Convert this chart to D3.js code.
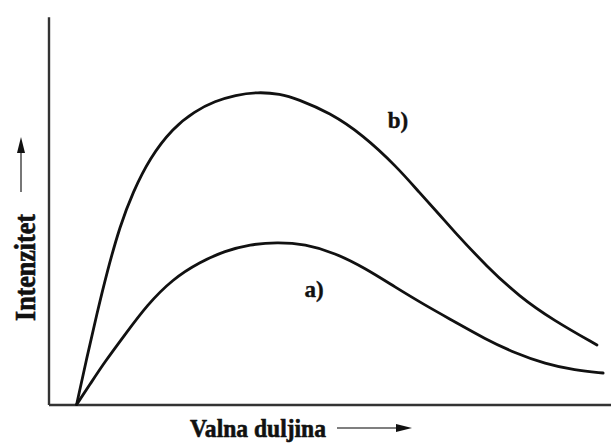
<!DOCTYPE html>
<html>
<head>
<meta charset="utf-8">
<script src="https://cdn.jsdelivr.net/npm/d3@7"></script>
<style>
  html, body { margin: 0; padding: 0; background: #fff; }
  svg { display: block; }
</style>
</head>
<body>
<svg id="chart" width="611" height="443"></svg>
<script>
// Wavelength (arbitrary units, 0-100) and intensity (arbitrary units, 0-100)
const seriesNames = ["a)", "b)"];
const waveB = [5.0, 6.8, 8.6, 10.4, 12.7, 15.0, 18.0, 22.1, 26.0, 29.6, 33.2, 37.2, 41.2, 44.2, 50.0, 55.9, 62.0, 66.0, 69.6, 71.9, 78.0, 83.8, 89.7, 97.5];
const intensityB = [0, 12.1, 23.6, 34.5, 46.5, 55.3, 64.2, 72.0, 76.4, 79.0, 80.6, 81.4, 80.9, 79.6, 76.0, 70.2, 61.8, 55.1, 49.3, 45.4, 35.8, 28.0, 22.0, 15.5];
const waveA = [5.0, 7.4, 10.0, 13.6, 17.5, 22.1, 26.9, 31.4, 35.8, 40.6, 45.6, 50.9, 56.3, 61.6, 66.9, 72.3, 77.6, 82.9, 88.3, 93.6, 98.6];
const intensityA = [0, 5.3, 11.1, 18.2, 25.9, 32.7, 37.1, 40.0, 41.7, 42.3, 41.8, 39.5, 35.5, 30.6, 25.9, 21.5, 17.1, 13.4, 10.6, 8.9, 8.2];
const xLabel = "Valna duljina";
const yLabel = "Intenzitet";
// label anchor positions in data units
const labelPosA = [45.5, 28.0];
const labelPosB = [60.3, 72.0];

const svg = d3.select("#chart");
const x = d3.scaleLinear().domain([0, 100]).range([48.5, 611]);
const y = d3.scaleLinear().domain([0, 101]).range([404.5, 16.7]);

const font = "'Liberation Serif', 'Times New Roman', serif";

// axes (no ticks)
svg.append("g")
  .attr("transform", `translate(0,${y(0)})`)
  .call(d3.axisBottom(x).ticks(0).tickSize(0).tickSizeOuter(0))
  .call(g => g.select(".domain").attr("stroke", "#333").attr("stroke-width", 2.4))
  .call(g => g.selectAll("text").remove());
svg.append("g")
  .attr("transform", `translate(${x(0)},0)`)
  .call(d3.axisLeft(y).ticks(0).tickSize(0).tickSizeOuter(0))
  .call(g => g.select(".domain").attr("stroke", "#333").attr("stroke-width", 2.4))
  .call(g => g.selectAll("text").remove());

const line = d3.line()
  .x(d => x(d[0]))
  .y(d => y(d[1]))
  .curve(d3.curveBasis);

const dataA = waveA.map((w, i) => [w, intensityA[i]]);
const dataB = waveB.map((w, i) => [w, intensityB[i]]);

[dataA, dataB].forEach(d => {
  svg.append("path")
    .datum(d)
    .attr("d", line)
    .attr("fill", "none")
    .attr("stroke", "#111")
    .attr("stroke-width", 2.8)
    .attr("stroke-linecap", "round");
});

// series labels
const labelStyle = sel => sel
  .attr("font-family", font).attr("font-weight", "bold").attr("font-size", 23)
  .attr("fill", "#111").attr("stroke", "#111").attr("stroke-width", 0.4);
svg.append("text")
  .attr("x", x(labelPosA[0])).attr("y", y(labelPosA[1]))
  .call(labelStyle)
  .text(seriesNames[0]);
svg.append("text")
  .attr("x", x(labelPosB[0])).attr("y", y(labelPosB[1]))
  .call(labelStyle)
  .text(seriesNames[1]);

// axis titles
svg.append("text")
  .attr("x", 190).attr("y", 437)
  .attr("font-family", font).attr("font-weight", "bold").attr("font-size", 25)
  .attr("textLength", 136).attr("lengthAdjust", "spacingAndGlyphs")
  .attr("fill", "#111").attr("stroke", "#111").attr("stroke-width", 0.6)
  .text(xLabel);

svg.append("text")
  .attr("transform", "translate(35,321) rotate(-90)")
  .attr("font-family", font).attr("font-weight", "bold").attr("font-size", 29)
  .attr("textLength", 107).attr("lengthAdjust", "spacingAndGlyphs")
  .attr("fill", "#111").attr("stroke", "#111").attr("stroke-width", 0.6)
  .text(yLabel);

// arrows
svg.append("line").attr("x1", 337).attr("y1", 428).attr("x2", 398).attr("y2", 428)
  .attr("stroke", "#555").attr("stroke-width", 1.6);
svg.append("path")
  .attr("d", d3.line()([[396, 424], [412, 428], [396, 432]]) + "Z")
  .attr("fill", "#111");

svg.append("line").attr("x1", 21).attr("y1", 192).attr("x2", 21).attr("y2", 151)
  .attr("stroke", "#555").attr("stroke-width", 1.6);
svg.append("path")
  .attr("d", d3.line()([[17, 153], [21, 137], [25, 153]]) + "Z")
  .attr("fill", "#111");
</script>
</body>
</html>
